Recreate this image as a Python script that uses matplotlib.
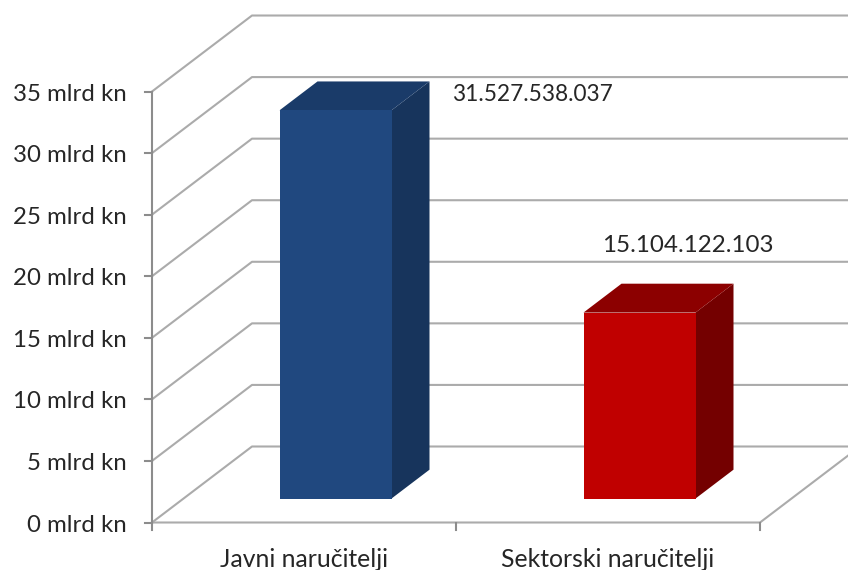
from matplotlib import pyplot as plt

categories = ['Javni naručitelji', 'Sektorski naručitelji']
values = [31.527538037, 15.104122103]
value_labels = ['31.527.538.037', '15.104.122.103']
bar_colors = ['#20487f', '#c00000']
side_colors = ['#17345c', '#740000']
top_colors = ['#1a3b69', '#8c0000']
y_ticks = [0, 5, 10, 15, 20, 25, 30, 35]
y_labels = [f'{t} mlrd kn' for t in y_ticks]

plt.rcParams['font.family'] = ['Lato', 'DejaVu Sans']

W, H = 848, 570
PX_X = 304.0    # pixels per category
PX_Y = 12.314   # pixels per mlrd kn
X0_PX, Y0_PX = 304, 522.5

fig = plt.figure(figsize=(W / 100, H / 100), dpi=100)
ax = fig.add_axes([0, 0, 1, 1])
ax.set_xlim(-X0_PX / PX_X, (W - X0_PX) / PX_X)
ax.set_ylim((Y0_PX - H) / PX_Y, Y0_PX / PX_Y)
ax.axis('off')

# oblique projection: depth 1 is the back wall
DX = 100 / PX_X
DY = 76 / PX_Y
LEFT, RIGHT = -0.5, 1.5
WIDTH = 112 / PX_X
D_FRONT, D_BACK = 0.315, 0.315 + 0.38


def proj(x, v, d):
    return x + d * DX, v + d * DY


GRID = '#ababab'
AXIS = '#8c8c8c'
TEXT = '#262626'

# grid on the side wall and the back wall
for t in y_ticks:
    xs, ys = zip(proj(LEFT, t, 0), proj(LEFT, t, 1), proj(RIGHT, t, 1))
    ax.plot(xs, ys, color=GRID, lw=1.5, zorder=1)

# floor edges
xs, ys = zip(proj(LEFT, 0, 0), proj(RIGHT, 0, 0), proj(RIGHT, 0, 1))
ax.plot(xs, ys, color=GRID, lw=1.5, zorder=1)

# axes and ticks
ax.plot([LEFT, LEFT], [0, y_ticks[-1]], color=AXIS, lw=1.5, zorder=2)
for t, lab in zip(y_ticks, y_labels):
    ax.plot([LEFT - 7 / PX_X, LEFT], [t, t], color=AXIS, lw=1.5, zorder=2)
    ax.text(LEFT - 25 / PX_X, t - 2.5 / PX_Y, lab, ha='right', va='center',
            fontsize=17.3, color=TEXT)
for x in [-0.5, 0.5, 1.5]:
    ax.plot([x, x], [0, -7 / PX_Y], color=AXIS, lw=1.5, zorder=2)

# bars
for i, v in enumerate(values):
    l, r = i - WIDTH / 2, i + WIDTH / 2
    side = [proj(r, 0, D_FRONT), proj(r, 0, D_BACK), proj(r, v, D_BACK), proj(r, v, D_FRONT)]
    top = [proj(l, v, D_FRONT), proj(r, v, D_FRONT), proj(r, v, D_BACK), proj(l, v, D_BACK)]
    ax.fill(*zip(*side), color=side_colors[i], lw=0, zorder=3)
    ax.fill(*zip(*top), color=top_colors[i], lw=0, zorder=3)
    ax.bar(i + D_FRONT * DX, v, WIDTH, bottom=D_FRONT * DY, color=bar_colors[i], zorder=4)
    ax.text(i, -37 / PX_Y, categories[i], ha='center', va='center',
            fontsize=17.8, color=TEXT)

# data labels
ax.text(0 + 228 / PX_X, values[0] + 3.2, value_labels[0], ha='center', va='center',
        fontsize=16.3, color=TEXT)
ax.text(1 + 80 / PX_X, values[1] + 7.4, value_labels[1], ha='center', va='center',
        fontsize=17.4, color=TEXT)

fig.savefig('out.png', dpi=100)
